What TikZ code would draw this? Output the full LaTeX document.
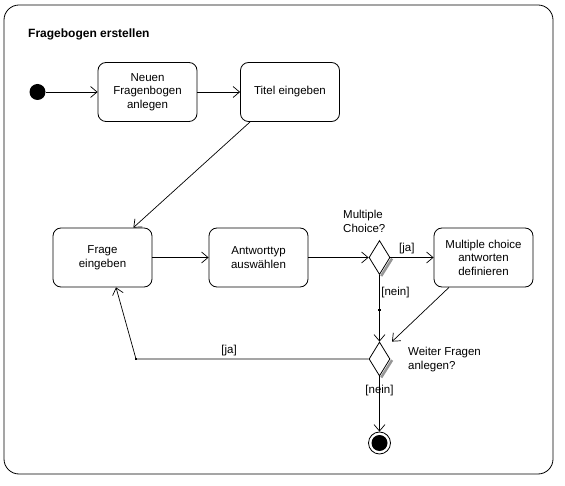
\documentclass[tikz,border=0pt]{standalone}
\usepackage{fontspec}
\setmainfont{Liberation Sans}
\usetikzlibrary{arrows.meta,shapes.geometric}
\definecolor{shadowgray}{RGB}{150, 150, 150}

\tikzset{
  activity/.style={draw, rounded corners=8pt, line width=0.8pt, minimum width=99pt,
                   minimum height=59pt, align=center, inner sep=0pt,
                   font=\fontsize{11.5}{13.5}\selectfont},
  decision/.style={draw, diamond, line width=0.8pt, minimum width=21pt,
                   minimum height=34pt, inner sep=0pt},
  flow/.style={line width=0.7pt, -{Straight Barb[length=6.5pt,width=11pt]}},
  guard/.style={inner sep=0pt, font=\fontsize{11.5}{14}\selectfont},
  note/.style={inner sep=0pt, align=left, font=\fontsize{11.5}{14}\selectfont},
  knick/.style={fill=black},
  schatten/.style={shadowgray, line width=2.5pt},
}

\begin{document}
\begin{tikzpicture}[x=1pt, y=-1pt]
            \useasboundingbox (0,0) rectangle (565,486);
            % Frame
            \draw[line width=0.8pt, rounded corners=15pt] (4,5) rectangle (553,474);
            \node[inner sep=0pt, anchor=west, font=\bfseries\fontsize{12}{14}\selectfont]
                 (kopf) at (28,34) {Fragebogen erstellen};
            % Nodes
            \node[circle, fill=black, minimum size=16pt, inner sep=0pt] (start) at (37.5,92) {};
            \node[activity] (neu)    at (147.5,92)  {Neuen\\Fragenbogen\\anlegen};
            \node[activity] (titel)  at (290,92)    {Titel eingeben};
            \node[activity] (frage)  at (102.5,257.5) {Frage\\eingeben};
            \node[activity] (typ)    at (258.5,257.5) {Antworttyp\\auswählen};
            \node[decision] (mc)     at (379.5,257.5) {};
            \node[activity] (mcdef)  at (483.5,257.5) {Multiple choice\\antworten\\definieren};
            \node[decision] (weiter) at (379.5,359)   {};
            \node[circle, draw, line width=0.8pt, minimum size=22pt, inner sep=0pt] (ende) at (379.5,443) {};
            \node[circle, fill=black, minimum size=16pt, inner sep=0pt] (endekern) at (ende) {};
            % Shadows
            \draw[schatten] ([shift={(1.7pt,-1.1pt)}]mc.east) -- ([shift={(1.7pt,-1.1pt)}]mc.south);
            \draw[schatten] ([shift={(1.7pt,-1.1pt)}]weiter.east) -- ([shift={(1.7pt,-1.1pt)}]weiter.south);
            % Notes
            \node[note, anchor=south west] (mcfrage) at (343,233) {Multiple\\Choice?};
            \node[note, anchor=north west] (weiterfrage) at (408,347) {Weiter Fragen\\anlegen?};
            % Flows
            \coordinate (neinknick) at (379.5,310);
            \coordinate (jaknick)   at (136,359);
            \draw[flow] (start) -- (neu);
            \draw[flow] (neu) -- (titel);
            \draw[flow] ([xshift=10pt]titel.south west) -- ([xshift=-19pt]frage.north east);
            \draw[flow] (frage) -- (typ);
            \draw[flow] (typ) -- (mc);
            \draw[flow] (mc) -- node[guard, pos=0.38, above=3pt] {[ja]} (mcdef);
            \draw[flow] (mc) -- node[guard, right=1.5pt] {[nein]} (neinknick) -- (weiter);
            \draw[flow] ([xshift=-34.5pt]mcdef.south) -- ([xshift=12.5pt]weiter.north);
            \draw[flow] (weiter) -- node[guard, pos=0.6, above=3pt] {[ja]} (jaknick)
                 -- ([xshift=13.5pt]frage.south);
            \draw[flow] (weiter) -- node[guard, pos=0.25] {[nein]} (ende);
            % Bend points
            \fill[knick] (neinknick) +(-1.2pt,-1.2pt) rectangle +(1.2pt,1.2pt);
            \fill[knick] (jaknick)   +(-1.2pt,-1.2pt) rectangle +(1.2pt,1.2pt);
\end{tikzpicture}
\end{document}
